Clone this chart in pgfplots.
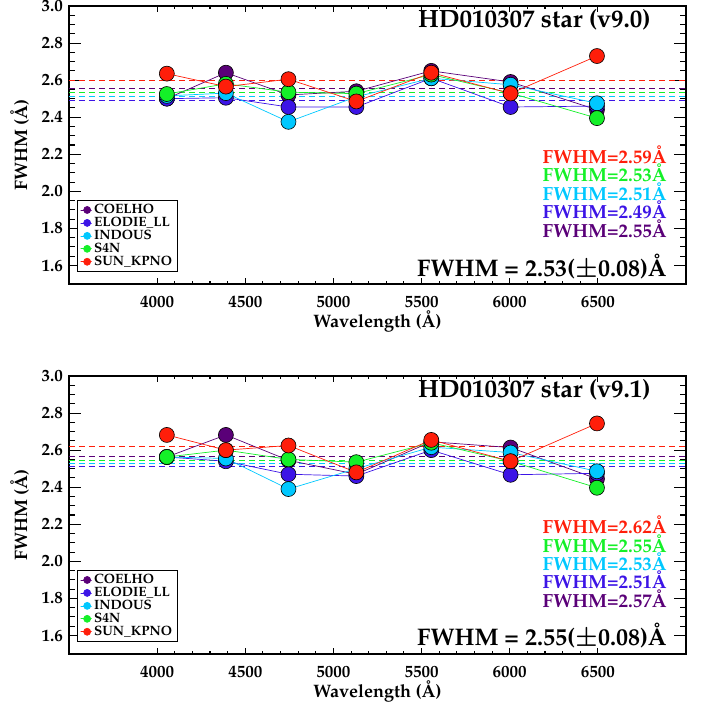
\documentclass[border=0pt]{standalone}
\usepackage[T1]{fontenc}
\usepackage{mathpazo}
\usepackage{graphicx}
\usepackage{pgfplots}
\pgfplotsset{compat=1.18}
\definecolor{cpurple}{RGB}{90,0,120}
\definecolor{cblue}{RGB}{60,20,230}
\definecolor{ccyan}{RGB}{0,200,255}
\definecolor{cgreen}{RGB}{20,240,40}
\definecolor{cred}{RGB}{255,30,10}
\tikzset{
  lab/.style={anchor=base east, inner sep=0pt, text=#1, font=\fontsize{19}{19}\selectfont\bfseries},
  big/.style={anchor=base east, inner sep=0pt, font=\fontsize{#1}{#1}\selectfont\bfseries\boldmath},
}
\pgfplotsset{
  panel/.style={
    anchor=south west, scale only axis, width=617pt, height=278pt,
    xmin=3500, xmax=7000, ymin=1.5, ymax=3.0,
    xtick={4000,4500,5000,5500,6000,6500}, minor x tick num=4,
    ytick={1.6,1.8,2.0,2.2,2.4,2.6,2.8,3.0}, minor y tick num=3,
    axis line style={line width=1.4pt},
    every tick/.style={black, line width=1.1pt},
    xtick style={/pgfplots/major tick length=6pt, /pgfplots/minor tick length=3pt},
    ytick style={/pgfplots/major tick length=12pt, /pgfplots/minor tick length=6pt},
    /pgf/number format/assume math mode=true,
    tick label style={font=\fontsize{17}{17}\selectfont\bfseries},
    xticklabel style={anchor=base, yshift=-24pt, /pgf/number format/1000 sep={}},
    yticklabel style={anchor=east, inner sep=0pt, xshift=-6pt, /pgf/number format/.cd, fixed, fixed zerofill, precision=1},
    xlabel={Wavelength (\AA)}, ylabel={FWHM (\AA)},
    label style={font=\fontsize{18}{18}\selectfont\bfseries},
    xlabel style={at={(axis description cs:0.5,-0.155)}, anchor=base},
    ylabel style={at={(axis description cs:-0.068,0.5)}, anchor=base},
    legend style={at={(axis description cs:0.013,0.043)}, anchor=south west, draw=black, line width=0.6pt,
      font=\fontsize{13.5}{13.5}\selectfont\bfseries, row sep=-2pt, inner xsep=3pt, inner ysep=2.5pt,
      column sep=0pt, cells={anchor=west}},
    legend cell align=left,
  },
  ser/.style={#1, line width=0.7pt, mark=*, mark size=7.5pt,
    mark options={fill=#1, draw=black, line width=0.6pt, solid},
    legend image code/.code={\path (0pt,0pt) rectangle (11pt,0pt); \fill[#1] (6.5pt,0pt) circle (3.5pt);}},
  mean/.style={#1, line width=0.7pt, dash pattern=on 6pt off 4pt, forget plot},
}
\begin{document}
\begin{tikzpicture}
\path[use as bounding box] (0,0) rectangle (707pt,706pt);
% ---------------- top panel v9.0
\begin{axis}[panel, at={(69pt,422pt)}]
\addplot[mean=cred] coordinates {(3500,2.598) (7000,2.598)};
\addplot[mean=cpurple] coordinates {(3500,2.554) (7000,2.554)};
\addplot[mean=cgreen] coordinates {(3500,2.533) (7000,2.533)};
\addplot[mean=ccyan] coordinates {(3500,2.513) (7000,2.513)};
\addplot[mean=cblue] coordinates {(3500,2.492) (7000,2.492)};
\addplot[ser=cpurple] coordinates {(4055,2.50) (4390,2.64) (4745,2.52) (5130,2.54) (5555,2.65) (6005,2.59) (6495,2.44)};
\addplot[ser=cblue] coordinates {(4055,2.50) (4390,2.505) (4745,2.455) (5130,2.455) (5555,2.61) (6005,2.455) (6495,2.46)};
\addplot[ser=ccyan] coordinates {(4055,2.515) (4390,2.53) (4745,2.375) (5130,2.51) (5555,2.61) (6005,2.575) (6495,2.475)};
\addplot[ser=cgreen] coordinates {(4055,2.525) (4390,2.58) (4745,2.535) (5130,2.527) (5555,2.63) (6005,2.53) (6495,2.395)};
\addplot[ser=cred] coordinates {(4055,2.635) (4390,2.565) (4745,2.605) (5130,2.485) (5555,2.64) (6005,2.528) (6495,2.73)};
\legend{COELHO,ELODIE\_LL,INDOUS,S4N,SUN\_KPNO}
\node[big=25] at (axis description cs:0.943,0.921) {HD010307 star (v9.0)};
\node[lab=cred] at (axis description cs:0.969,0.432) {FWHM=2.59\AA};
\node[lab=cgreen] at (axis description cs:0.969,0.368) {FWHM=2.53\AA};
\node[lab=ccyan] at (axis description cs:0.969,0.302) {FWHM=2.51\AA};
\node[lab=cblue] at (axis description cs:0.969,0.234) {FWHM=2.49\AA};
\node[lab=cpurple] at (axis description cs:0.969,0.167) {FWHM=2.55\AA};
\node[big=24] at (axis description cs:0.969,0.026) {FWHM = 2.53($\pm$0.08)\AA};
\end{axis}
% ---------------- bottom panel v9.1
\begin{axis}[panel, at={(69pt,52pt)}]
\addplot[mean=cred] coordinates {(3500,2.618) (7000,2.618)};
\addplot[mean=cpurple] coordinates {(3500,2.566) (7000,2.566)};
\addplot[mean=cgreen] coordinates {(3500,2.546) (7000,2.546)};
\addplot[mean=ccyan] coordinates {(3500,2.528) (7000,2.528)};
\addplot[mean=cblue] coordinates {(3500,2.511) (7000,2.511)};
\addplot[ser=cpurple] coordinates {(4055,2.563) (4390,2.682) (4745,2.545) (5130,2.47) (5555,2.645) (6005,2.614) (6495,2.445)};
\addplot[ser=cblue] coordinates {(4055,2.563) (4390,2.54) (4745,2.47) (5130,2.46) (5555,2.60) (6005,2.467) (6495,2.475)};
\addplot[ser=ccyan] coordinates {(4055,2.563) (4390,2.555) (4745,2.39) (5130,2.50) (5555,2.616) (6005,2.587) (6495,2.486)};
\addplot[ser=cgreen] coordinates {(4055,2.563) (4390,2.60) (4745,2.55) (5130,2.535) (5555,2.64) (6005,2.54) (6495,2.397)};
\addplot[ser=cred] coordinates {(4055,2.682) (4390,2.60) (4745,2.625) (5130,2.48) (5555,2.655) (6005,2.54) (6495,2.744)};
\legend{COELHO,ELODIE\_LL,INDOUS,S4N,SUN\_KPNO}
\node[big=25] at (axis description cs:0.943,0.921) {HD010307 star (v9.1)};
\node[lab=cred] at (axis description cs:0.969,0.434) {FWHM=2.62\AA};
\node[lab=cgreen] at (axis description cs:0.969,0.366) {FWHM=2.55\AA};
\node[lab=ccyan] at (axis description cs:0.969,0.302) {FWHM=2.53\AA};
\node[lab=cblue] at (axis description cs:0.969,0.234) {FWHM=2.51\AA};
\node[lab=cpurple] at (axis description cs:0.969,0.167) {FWHM=2.57\AA};
\node[big=24] at (axis description cs:0.969,0.032) {FWHM = 2.55($\pm$0.08)\AA};
\end{axis}
\end{tikzpicture}
\end{document}
